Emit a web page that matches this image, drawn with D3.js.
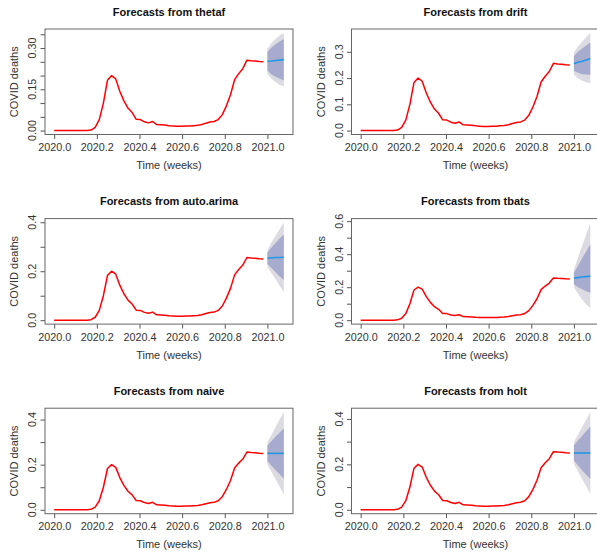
<!DOCTYPE html>
<meta charset="utf-8">
<style>
  html, body {
      margin: 0;
      padding: 0;
      background: #fff;
      overflow: hidden;
  }
  text {
      font-family: "Liberation Sans", Arial, sans-serif;
      fill: #333;
  }
  .title {
      font-weight: bold;
      font-size: 11px;
      fill: #111;
  }
  .tick text, .ylab {
      font-size: 10.8px;
  }
  .axtitle {
      font-size: 11px;
  }
  .tick line {
      stroke: #555;
  }
</style>
<body>
</body>
<script src="https://cdn.jsdelivr.net/npm/d3@7"></script>
<script>

  var width = 597;
  var height = 554;

  /* weekly series, 52 weeks of 2020 */
  var deaths = [
      0, 0, 0, 0, 0, 0, 0, 0, 0, 0.002,
      0.012, 0.040, 0.100, 0.183, 0.200, 0.188, 0.143, 0.108, 0.082, 0.066,
      0.041, 0.040, 0.032, 0.028, 0.033, 0.022, 0.021, 0.020, 0.018, 0.017,
      0.016, 0.016, 0.017, 0.017, 0.018, 0.019, 0.022, 0.027, 0.031, 0.033,
      0.040, 0.058, 0.090, 0.130, 0.185, 0.207, 0.225, 0.256, 0.254, 0.253,
      0.251, 0.250
  ];

  var models = ["thetaf", "drift", "auto.arima", "tbats", "naive", "holt"];

  /* 5-week forecasts, one row per model */
  var fcMean = [
      [0.252, 0.253, 0.255, 0.256, 0.258],
      [0.255, 0.260, 0.264, 0.269, 0.274],
      [0.253, 0.255, 0.256, 0.256, 0.257],
      [0.254, 0.258, 0.262, 0.264, 0.266],
      [0.250, 0.250, 0.250, 0.250, 0.250],
      [0.250, 0.250, 0.250, 0.250, 0.250]
  ];
  var fcLo80 = [
      [0.218, 0.204, 0.196, 0.188, 0.183],
      [0.227, 0.220, 0.215, 0.214, 0.213],
      [0.230, 0.213, 0.196, 0.178, 0.164],
      [0.218, 0.200, 0.187, 0.176, 0.167],
      [0.215, 0.195, 0.175, 0.157, 0.138],
      [0.217, 0.195, 0.174, 0.154, 0.135]
  ];
  var fcHi80 = [
      [0.286, 0.302, 0.314, 0.324, 0.333],
      [0.283, 0.300, 0.313, 0.324, 0.335],
      [0.276, 0.297, 0.316, 0.334, 0.350],
      [0.288, 0.330, 0.375, 0.418, 0.460],
      [0.285, 0.305, 0.325, 0.343, 0.362],
      [0.283, 0.305, 0.326, 0.346, 0.365]
  ];
  var fcLo95 = [
      [0.207, 0.188, 0.177, 0.166, 0.161],
      [0.213, 0.199, 0.190, 0.184, 0.180],
      [0.218, 0.192, 0.167, 0.140, 0.115],
      [0.200, 0.160, 0.125, 0.097, 0.073],
      [0.200, 0.168, 0.135, 0.102, 0.068],
      [0.202, 0.169, 0.136, 0.104, 0.070]
  ];
  var fcHi95 = [
      [0.297, 0.318, 0.333, 0.346, 0.355],
      [0.297, 0.321, 0.338, 0.355, 0.372],
      [0.288, 0.318, 0.345, 0.372, 0.399],
      [0.305, 0.380, 0.450, 0.520, 0.592],
      [0.300, 0.333, 0.367, 0.400, 0.433],
      [0.298, 0.331, 0.364, 0.396, 0.430]
  ];

  var xTicks = [2020.0, 2020.2, 2020.4, 2020.6, 2020.8, 2021.0];
  var yTicks = [
      [0, 0.05, 0.10, 0.15, 0.20, 0.25, 0.30, 0.35],
      [0, 0.1, 0.2, 0.3],
      [0, 0.1, 0.2, 0.3, 0.4],
      [0, 0.1, 0.2, 0.3, 0.4, 0.5, 0.6],
      [0, 0.1, 0.2, 0.3, 0.4],
      [0, 0.1, 0.2, 0.3, 0.4]
  ];
  var yLabels = [
      ["0.00", "0.15", "0.30"],
      ["0.0", "0.1", "0.2", "0.3"],
      ["0.0", "0.2", "0.4"],
      ["0.0", "0.2", "0.4", "0.6"],
      ["0.0", "0.2", "0.4"],
      ["0.0", "0.2", "0.4"]
  ];

  var svg = d3.select("body").append("svg")
      .attr("width", width)
      .attr("height", height);

  var boxW = 248, boxH = 105.5;

  models.forEach(function(m, i) {
      var col = i % 2, row = Math.floor(i / 2);
      var left = 45 + col * 306.5;
      var top = 29 + row * 189.6;

      var g = svg.append("g")
	  .attr("transform", "translate(" + left + "," + top + ")");

      var series = deaths.map((v, k) => ({t: 2020 + k / 52, v: v}));
      var fc = fcMean[i].map((v, k) => ({
	  t: 2021 + k / 52, v: v,
	  lo80: fcLo80[i][k], hi80: fcHi80[i][k],
	  lo95: fcLo95[i][k], hi95: fcHi95[i][k]
      }));

      // R style 4% padding on both axes
      var t0 = 2020, t1 = fc[fc.length - 1].t;
      var xp = (t1 - t0) * 0.04;
      var x = d3.scaleLinear().domain([t0 - xp, t1 + xp]).range([0, boxW]);

      var ymin = Math.min(d3.min(deaths), d3.min(fcLo95[i]));
      var ymax = Math.max(d3.max(deaths), d3.max(fcHi95[i]));
      var yp = (ymax - ymin) * 0.04;
      var y = d3.scaleLinear().domain([ymin - yp, ymax + yp]).range([boxH, 0]);

      // fan: 95 then 80
      g.append("path")
	  .datum(fc)
	  .attr("fill", "#DBDBE1")
	  .attr("d", d3.area().x(d => x(d.t)).y0(d => y(d.lo95)).y1(d => y(d.hi95)));
      g.append("path")
	  .datum(fc)
	  .attr("fill", "#A7ABCE")
	  .attr("d", d3.area().x(d => x(d.t)).y0(d => y(d.lo80)).y1(d => y(d.hi80)));
      g.append("path")
	  .datum(fc)
	  .attr("fill", "none")
	  .attr("stroke", "#2297E6")
	  .attr("stroke-width", 1.6)
	  .attr("d", d3.line().x(d => x(d.t)).y(d => y(d.v)));

      g.append("path")
	  .datum(series)
	  .attr("fill", "none")
	  .attr("stroke", "#ff0000")
	  .attr("stroke-width", 1.5)
	  .attr("stroke-linejoin", "round")
	  .attr("d", d3.line().x(d => x(d.t)).y(d => y(d.v)));

      // axes
      var xa = g.append("g")
	  .attr("transform", "translate(0," + boxH + ")")
	  .call(d3.axisBottom(x).tickValues(xTicks).tickFormat(d3.format(".1f"))
		.tickSize(4.5).tickPadding(4.5));
      xa.select(".domain").remove();

      var ya = g.append("g")
	  .call(d3.axisLeft(y).tickValues(yTicks[i]).tickSize(4.5).tickFormat(""));
      ya.select(".domain").remove();

      g.selectAll(".ylab")
	  .data(yLabels[i])
	  .enter().append("text")
	  .attr("class", "ylab")
	  .attr("text-anchor", "middle")
	  .attr("transform", d => "translate(-9," + y(+d) + ") rotate(-90)")
	  .text(d => d);

      g.append("rect")
	  .attr("x", 0).attr("y", 0)
	  .attr("width", boxW).attr("height", boxH)
	  .attr("fill", "none")
	  .attr("stroke", "#666")
	  .attr("stroke-width", 1);

      g.append("text")
	  .attr("class", "title")
	  .attr("x", boxW / 2)
	  .attr("y", -13.5)
	  .attr("text-anchor", "middle")
	  .text("Forecasts from " + m);

      g.append("text")
	  .attr("class", "axtitle")
	  .attr("x", boxW / 2)
	  .attr("y", boxH + 34.5)
	  .attr("text-anchor", "middle")
	  .text("Time (weeks)");

      g.append("text")
	  .attr("class", "axtitle")
	  .attr("text-anchor", "middle")
	  .attr("transform", "translate(-27," + (boxH / 2) + ") rotate(-90)")
	  .text("COVID deaths");
  });

</script>
